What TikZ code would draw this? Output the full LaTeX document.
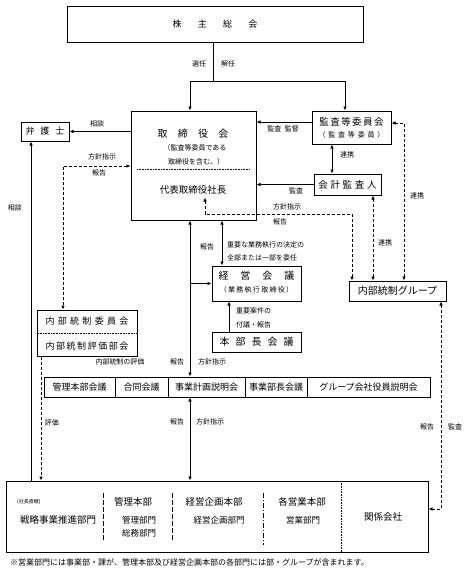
\documentclass[tikz,border=0pt]{standalone}
\usepackage{fontspec}
\setmainfont{Noto Sans CJK JP}
\usetikzlibrary{positioning}
\usetikzlibrary{arrows.meta}
\newcommand\spread[2]{\def\spreadsep{\hspace{#1}}\spreadloop#2\relax}
\def\spreadloop#1{#1\futurelet\spreadnext\spreadcheck}
\def\spreadcheck{\ifx\spreadnext\relax\expandafter\spreadgobble\else\spreadsep\expandafter\spreadloop\fi}
\def\spreadgobble#1{}
\tikzset{
    mybox/.style = {draw=black, line width=1pt, inner sep=0pt, align=center, font=\fontsize{9.5}{11}\selectfont},
    mytext/.style = {inner sep=0pt, font=\fontsize{9.5}{11}\selectfont},
    mysmall/.style = {inner sep=0pt, font=\fontsize{7}{8}\selectfont},
    mylabel/.style = {inner sep=0pt, font=\fontsize{7}{8}\selectfont},
    edgen/.style = {-, line width=0.9pt, black},
    edgea/.style = {-{Latex[length=4pt,width=3.6pt]}, line width=0.9pt, black},
    edgeaa/.style = {{Latex[length=4pt,width=3.6pt]}-{Latex[length=4pt,width=3.6pt]}, line width=0.9pt, black},
    edged/.style = {-{Latex[length=4pt,width=3.6pt]}, line width=0.9pt, black, dash pattern=on 3pt off 2pt},
    edgedd/.style = {{Latex[length=4pt,width=3.6pt]}-{Latex[length=4pt,width=3.6pt]}, line width=0.9pt, black, dash pattern=on 3pt off 2pt},
    sepdot/.style = {line width=0.6pt, dash pattern=on 0.8pt off 0.8pt},
    sepdash/.style = {line width=0.9pt, dash pattern=on 5pt off 2pt},
    sepdashdot/.style = {line width=0.9pt, dash pattern=on 5pt off 2pt on 1pt off 2pt},
}
\begin{document}
\begin{tikzpicture}[x=1pt,y=-1pt]
\path[use as bounding box] (0,0) rectangle (464,571);
% boxes
\node[mybox, minimum width=296, minimum height=36, font=\fontsize{9}{11}\selectfont] at (215,24) (kabu) {\spread{1.8em}{株主総会}};
\node[mybox, minimum width=125, minimum height=109] at (193.5,165.5) (tori) {};
\node[mybox, minimum width=48, minimum height=19, font=\fontsize{9}{11}\selectfont] at (45,131.5) (bengo) {\spread{0.65em}{弁護士}};
\node[mybox, minimum width=79, minimum height=33] at (351.5,127.5) (kansa) {};
\node[mybox, minimum width=67, minimum height=21] at (347.5,184.5) (kaikei) {\spread{0.28em}{会計監査人}};
\node[mybox, minimum width=97, minimum height=20, font=\fontsize{10}{11}\selectfont] at (397.5,291) (naibu) {内部統制グループ};
\node[mybox, minimum width=89, minimum height=35] at (256.5,283.5) (keiei) {};
\node[mybox, minimum width=89, minimum height=20, font=\fontsize{10}{11}\selectfont] at (256.5,342) (honbu) {\spread{0.6em}{本部長会議}};
\node[mybox, minimum width=100, minimum height=46] at (87,333) (iinkai) {};
\node[mybox, minimum width=422, minimum height=71] at (217,516.5) (bottom) {};
% meetings
\node[mybox, minimum width=71, minimum height=20, font=\fontsize{9}{11}\selectfont] at (79.5,387) (m1) {管理本部会議};
\node[mybox, minimum width=53, minimum height=20, font=\fontsize{9}{11}\selectfont] at (141.5,387) (m2) {合同会議};
\node[mybox, minimum width=77, minimum height=20, font=\fontsize{9}{11}\selectfont] at (206.5,387) (m3) {事業計画説明会};
\node[mybox, minimum width=62, minimum height=20, font=\fontsize{9}{11}\selectfont] at (276,387) (m4) {事業部長会議};
\node[mybox, minimum width=123, minimum height=20, font=\fontsize{9}{11}\selectfont] at (368.5,387) (m5) {グループ会社役員説明会};
% texts in boxes
\node[mytext, font=\fontsize{10}{11}\selectfont] at (193,134) (toritxt) {\spread{1.03em}{取締役会}};
\node[mysmall] at (195,148) {（監査等委員である};
\node[mysmall] at (196,162) {取締役を含む。）};
\draw[sepdot] (137,169) -- (250,169);
\node[mytext] at (193,190) (ceo) {代表取締役社長};
\node[mytext] at (351.5,122) {\spread{0.15em}{監査等委員会}};
\node[mysmall] at (351.5,135) {\spread{0.4em}{（監査等委員）}};
\node[mytext, font=\fontsize{10}{11}\selectfont] at (256.5,276) {\spread{1.2em}{経営会議}};
\node[mysmall] at (256.5,290) {\spread{0.18em}{（業務執行取締役）}};
\node[mytext, font=\fontsize{9}{11}\selectfont] at (87,321) {\spread{0.37em}{内部統制委員会}};
\draw[sepdot] (iinkai.west) -- (iinkai.east);
\node[mytext, font=\fontsize{9}{11}\selectfont] at (87,346) {\spread{0.17em}{内部統制評価部会}};
% bottom box
\node[mytext, font=\fontsize{5}{6}\selectfont, anchor=west] at (17,502) {(社長直轄)};
\node[mytext] at (58,520) {戦略事業推進部門};
\node[mytext] at (133,502) {管理本部};
\node[mytext, font=\fontsize{8.5}{10}\selectfont] at (139,520) {管理部門};
\node[mytext, font=\fontsize{8.5}{10}\selectfont] at (139,533) {総務部門};
\node[mytext] at (214,502) {経営企画本部};
\node[mytext, font=\fontsize{8.5}{10}\selectfont] at (219,520) {経営企画部門};
\node[mytext] at (302,502) {各営業本部};
\node[mytext, font=\fontsize{8.5}{10}\selectfont] at (303,520) {営業部門};
\node[mytext] at (383,517) {関係会社};
\draw[sepdash] (103,493) -- (103,540);
\draw[sepdash] (172,493) -- (172,540);
\draw[sepdashdot] (263,493) -- (263,545);
\draw[sepdot] (341,481) -- (341,552);
\node[mytext, font=\fontsize{8}{9}\selectfont, anchor=west] at (10,562) {※営業部門には事業部・課が、管理本部及び経営企画本部の各部門には部・グループが含まれます。};
%
\coordinate (split) at (213,81);
\coordinate (colA) at (190,81);
\coordinate (colB) at (345,81);
\coordinate (colL) at (31,0);
\coordinate (colD) at (63,166);
\coordinate (colE) at (41,0);
\coordinate (rowK) at (0,122);
\coordinate (colK) at (332,0);
\coordinate (d1) at (205,214);
\coordinate (d2) at (352,214);
\coordinate (colR) at (373,0);
\coordinate (d3) at (404,123);
\coordinate (colM) at (222,0);
\coordinate (colH) at (229,0);
\coordinate (d5) at (441,509);
%
\draw[edgen] (kabu.south -| split) -- (split);
\draw[edgeaa] (colA |- tori.north) -- (colA) -- (colB) -- (colB |- kansa.north);
\draw[edgea] (tori.west |- bengo) -- (bengo.east);
\draw[edgea] (colL |- bottom.north) -- (colL |- bengo.south);
\draw[edgedd] (colD -| tori.west) -- (colD) -- (colD |- iinkai.north);
\draw[edged] (colE |- iinkai.south) -- (colE |- bottom.north);
\draw[edgea] (kansa.west |- rowK) -- (tori.east |- rowK);
\draw[edgea] (kaikei.west) -- (kaikei.west -| tori.east);
\draw[edgeaa] (colK |- kansa.south) -- (colK |- kaikei.north);
\draw[edgedd, shorten <=3pt] (d1 |- ceo.south) -- (d1) -- (d2) -- (d2 |- naibu.north);
\draw[edgedd] (colR |- kaikei.south) -- (colR |- naibu.north);
\draw[edgedd] (kansa.east |- d3) -- (d3) -- (d3 |- naibu.north);
\draw[edgeaa] (colA |- tori.south) -- (colA |- m3.north);
\draw[edgea] (colA |- keiei.west) -- (keiei.west);
\draw[edgeaa] (colM |- tori.south) -- (colM |- keiei.north);
\draw[edgea] (colH |- honbu.north) -- (colH |- keiei.south);
\draw[edgeaa] (colA |- m3.south) -- (colA |- bottom.north);
\draw[edgedd] (d5 |- naibu.south) -- (d5) -- (d5 -| bottom.east);
% labels
\node[mylabel] at (199,64) {選任};
\node[mylabel] at (228,64) {解任};
\node[mylabel] at (97,124) {相談};
\node[mylabel] at (102,157) {方針指示};
\node[mylabel] at (99,173) {報告};
\node[mylabel] at (15,208) {相談};
\node[mylabel] at (283,129) {監査\hspace{0.5em}監督};
\node[mylabel] at (347,155) {連携};
\node[mylabel] at (296,191) {監査};
\node[mylabel] at (287,207) {方針指示};
\node[mylabel] at (280,222) {報告};
\node[mylabel] at (417,196) {連携};
\node[mylabel] at (385,243) {連携};
\node[mylabel] at (207,247) {報告};
\node[mylabel, anchor=west] at (227,245) {重要な業務執行の決定の};
\node[mylabel, anchor=west] at (227,258) {全部または一部を委任};
\node[mylabel, anchor=west] at (236,311) {重要案件の};
\node[mylabel, anchor=west] at (236,325) {付議・報告};
\node[mylabel] at (120,362) {内部統制の評価};
\node[mylabel] at (177,362) {報告};
\node[mylabel] at (212,362) {方針指示};
\node[mylabel] at (52,423) {評価};
\node[mylabel] at (177,422) {報告};
\node[mylabel] at (210,422) {方針指示};
\node[mylabel] at (427,427) {報告};
\node[mylabel] at (455,427) {監査};
\end{tikzpicture}
\end{document}
